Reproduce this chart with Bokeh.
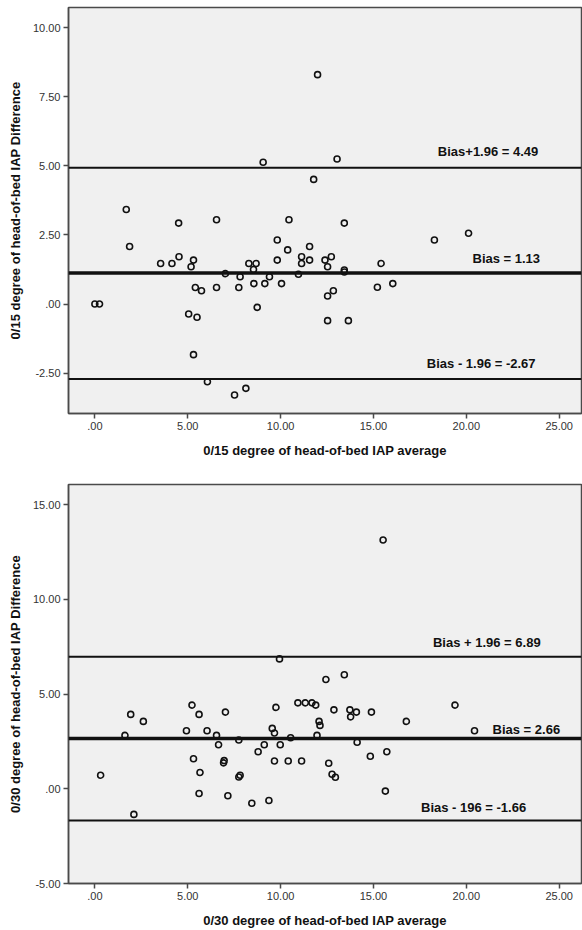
from bokeh.plotting import figure
from bokeh.models import Span, Label, FixedTicker, Range1d
from bokeh.layouts import column
from bokeh.embed import file_html
from bokeh.resources import INLINE

# ---------------- data: 0/15 degree ----------------
avg15 = [0.00, 0.25, 1.69, 1.87, 3.54, 4.15, 4.51, 4.53, 5.05, 5.18, 5.31, 5.31,
         5.41, 5.50, 5.74, 6.06, 6.55, 6.55, 7.03, 7.52, 7.75, 7.82, 8.13, 8.29,
         8.54, 8.56, 8.68, 8.74, 9.06, 9.15, 9.40, 9.82, 9.82, 10.05, 10.38, 10.45,
         10.96, 11.13, 11.13, 11.56, 11.56, 11.78, 11.99, 12.39, 12.53, 12.73,
         12.53, 12.84, 12.53, 13.04, 13.43, 13.43, 13.43, 13.65, 15.21, 15.41,
         16.04, 18.28, 20.12]
diff15 = [0.00, 0.00, 3.42, 2.08, 1.47, 1.47, 2.93, 1.71, -0.36, 1.35, 1.59, -1.83,
          0.60, -0.48, 0.48, -2.81, 3.05, 0.60, 1.10, -3.29, 0.60, 0.99, -3.05, 1.47,
          1.25, 0.74, 1.47, -0.12, 5.13, 0.74, 0.99, 2.32, 1.59, 0.74, 1.96, 3.05,
          1.08, 1.71, 1.47, 2.08, 1.59, 4.51, 8.30, 1.59, 1.35, 1.71,
          0.29, 0.48, -0.60, 5.25, 2.93, 1.23, 1.16, -0.60, 0.61, 1.47,
          0.74, 2.32, 2.56]
lines15 = [4.93, 1.12, -2.71]          # upper limit, bias, lower limit as drawn
texts15 = ["Bias+1.96 = 4.49", "Bias = 1.13", "Bias - 1.96 = -2.67"]
yticks15 = [-2.5, 0.0, 2.5, 5.0, 7.5, 10.0]
ylabels15 = ["-2.50", ".00", "2.50", "5.00", "7.50", "10.00"]

# ---------------- data: 0/30 degree ----------------
avg30 = [0.31, 1.62, 1.93, 2.10, 2.61, 4.93, 5.23, 5.31, 5.61, 5.61, 5.66, 6.04,
         6.55, 6.66, 6.93, 6.96, 7.03, 7.16, 7.75, 7.82, 7.75, 8.45, 8.79, 9.12,
         9.37, 9.55, 9.67, 9.75, 9.67, 9.94, 9.98, 10.41, 10.54, 10.93, 11.13,
         11.33, 11.69, 11.89, 11.96, 12.07, 12.12, 12.44, 12.59, 12.77, 12.87,
         12.95, 13.43, 13.73, 13.77, 14.08, 14.12, 14.83, 14.89, 15.52, 15.64,
         15.72, 16.77, 19.39, 20.44]
diff30 = [0.72, 2.82, 3.93, -1.35, 3.56, 3.07, 4.42, 1.59, 3.93, -0.25, 0.86, 3.07,
          2.82, 2.33, 1.37, 1.49, 4.05, -0.37, 2.58, 0.72, 0.62, -0.76, 1.96, 2.33,
          -0.62, 3.19, 2.95, 4.30, 1.47, 6.86, 2.33, 1.47, 2.70, 4.54, 1.47,
          4.54, 4.54, 4.42, 2.82, 3.56, 3.35, 5.77, 1.35, 0.77, 4.17,
          0.61, 6.02, 4.17, 3.80, 4.05, 2.46, 1.72, 4.05, 13.14, -0.12,
          1.96, 3.56, 4.42, 3.07]
lines30 = [6.98, 2.66, -1.67]
texts30 = ["Bias + 1.96 = 6.89", "Bias = 2.66", "Bias - 196 = -1.66"]
yticks30 = [-5.0, 0.0, 5.0, 10.0, 15.0]
ylabels30 = ["-5.00", ".00", "5.00", "10.00", "15.00"]

xticks = [0, 5, 10, 15, 20, 25]
xlabels = [".00", "5.00", "10.00", "15.00", "20.00", "25.00"]

FONT = "Liberation Sans"


def make_plot(avg, diff, lines, texts, yticks, ylabels, yrange, xtitle, ytitle,
              label_pos, height, border_top, border_bottom):
    p = figure(width=582, height=height, output_backend="svg",
               toolbar_location=None, x_range=Range1d(-1.42, 26.2),
               y_range=Range1d(*yrange),
               min_border_left=68, min_border_right=1,
               min_border_top=border_top, min_border_bottom=border_bottom)
    p.background_fill_color = "#f0f0f0"
    p.border_fill_color = "white"
    p.outline_line_color = "#4a4a4a"
    p.outline_line_width = 1.5
    p.xgrid.visible = False
    p.ygrid.visible = False

    p.xaxis.ticker = FixedTicker(ticks=xticks)
    p.xaxis.major_label_overrides = {t: l for t, l in zip(xticks, xlabels)}
    p.yaxis.ticker = FixedTicker(ticks=yticks)
    p.yaxis.major_label_overrides = {t: l for t, l in zip(yticks, ylabels)}
    for ax in (p.xaxis[0], p.yaxis[0]):
        ax.axis_line_color = "#4a4a4a"
        ax.axis_line_width = 1.5
        ax.major_tick_line_color = "#4a4a4a"
        ax.major_tick_line_width = 1.5
        ax.major_tick_out = 5
        ax.major_tick_in = 0
        ax.minor_tick_line_color = None
        ax.major_label_text_font = FONT
        ax.major_label_text_font_size = "11px"
        ax.major_label_text_color = "#333333"
        ax.major_label_standoff = 3
        ax.axis_label_text_font = FONT
        ax.axis_label_text_font_size = "13px"
        ax.axis_label_text_font_style = "bold"
        ax.axis_label_text_color = "#111111"
    p.xaxis.axis_label = xtitle
    p.yaxis.axis_label = ytitle
    p.xaxis.axis_label_standoff = 10
    p.yaxis.axis_label_standoff = 7

    widths = [2, 3.5, 2]
    for loc, w in zip(lines, widths):
        p.add_layout(Span(location=loc, dimension="width",
                          line_color="#111111", line_width=w))

    p.scatter(avg, diff, marker="circle", size=6, fill_color=None,
              line_color="#111111", line_width=1.6)

    for txt, (lx, ly) in zip(texts, label_pos):
        p.add_layout(Label(x=lx, y=ly, text=txt, text_align="center",
                           text_baseline="middle", text_font=FONT,
                           text_font_size="13px", text_font_style="bold",
                           text_color="#111111"))
    return p


p1 = make_plot(avg15, diff15, lines15, texts15, yticks15, ylabels15,
               (-3.96, 10.73),
               "0/15 degree of head-of-bed IAP average",
               "0/15 degree of head-of-bed IAP Difference",
               [(21.17, 5.53), (22.15, 1.64), (20.8, -2.16)],
               height=470, border_top=7, border_bottom=57)

p2 = make_plot(avg30, diff30, lines30, texts30, yticks30, ylabels30,
               (-5.0, 16.07),
               "0/30 degree of head-of-bed IAP average",
               "0/30 degree of head-of-bed IAP Difference",
               [(21.1, 7.74), (23.23, 3.12), (20.39, -1.0)],
               height=460, border_top=14, border_bottom=46)

layout = column(p1, p2, spacing=0)
open("out.html", "w").write(file_html(layout, INLINE))
